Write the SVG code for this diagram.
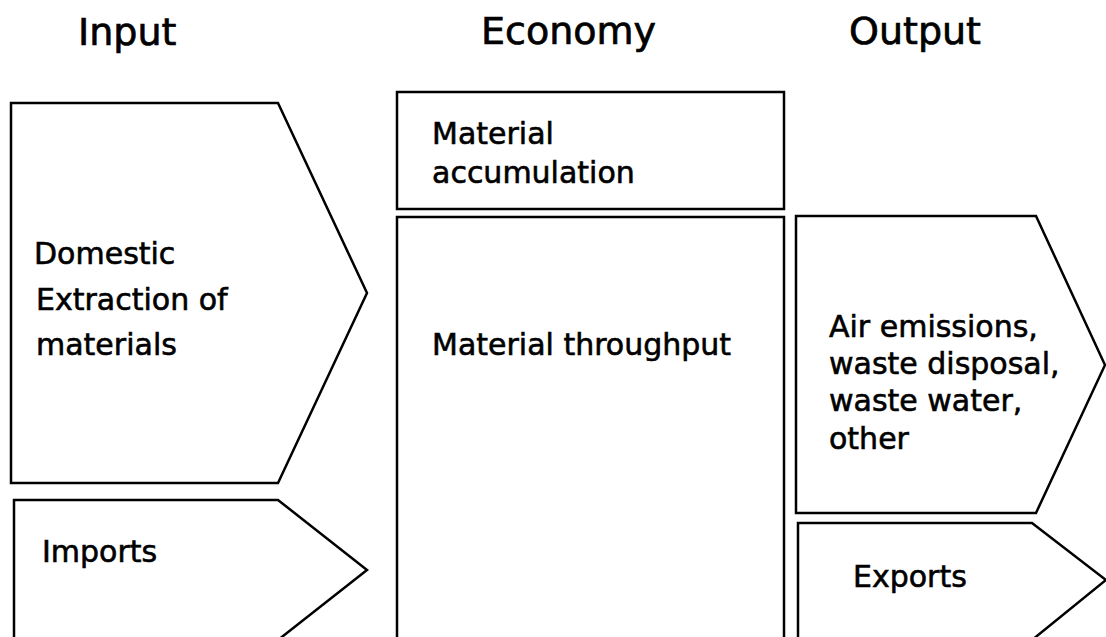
<svg xmlns="http://www.w3.org/2000/svg" width="1106" height="637" viewBox="0 0 1106 637">
<style>
.shape{fill:#fff;stroke:#000;stroke-width:2.5;stroke-linejoin:miter}
.h{font-family:"DejaVu Sans","Liberation Sans",sans-serif;font-size:38px;fill:#000;stroke:#000;stroke-width:0.7}
.t{font-family:"DejaVu Sans","Liberation Sans",sans-serif;font-size:30px;fill:#000;stroke:#000;stroke-width:0.6}
</style>
<rect width="1106" height="637" fill="#fff"/>
<g id="headings">
<text class="h" x="78" y="45">Input</text>
<text class="h" x="481" y="44">Economy</text>
<text class="h" x="849" y="44">Output</text>
</g>
<g id="domestic">
<polygon class="shape" points="11,103 278,103 367,293 278,483 11,483"/>
<text class="t" x="34" y="264" font-size="29">Domestic</text>
<text class="t" x="36" y="310">Extraction of</text>
<text class="t" x="36" y="355">materials</text>
</g>
<g id="imports">
<polygon class="shape" points="14,500 278,500 367,570 278,640 14,640"/>
<text class="t" x="42" y="562">Imports</text>
</g>
<g id="accumulation">
<rect class="shape" x="397" y="92" width="387" height="117"/>
<text class="t" x="432" y="144">Material</text>
<text class="t" x="432" y="183">accumulation</text>
</g>
<g id="throughput">
<rect class="shape" x="397" y="217" width="387" height="440"/>
<text class="t" x="432" y="355">Material throughput</text>
</g>
<g id="emissions">
<polygon class="shape" points="796,216 1036,216 1105,365 1036,513 796,513"/>
<text class="t" x="829" y="337">Air emissions,</text>
<text class="t" x="829" y="374">waste disposal,</text>
<text class="t" x="829" y="411">waste water,</text>
<text class="t" x="829" y="449">other</text>
</g>
<g id="exports">
<polygon class="shape" points="798,523 1032,523 1106,580 1032,640 798,640"/>
<text class="t" x="853" y="587">Exports</text>
</g>
<g id="connectors"/>
</svg>
